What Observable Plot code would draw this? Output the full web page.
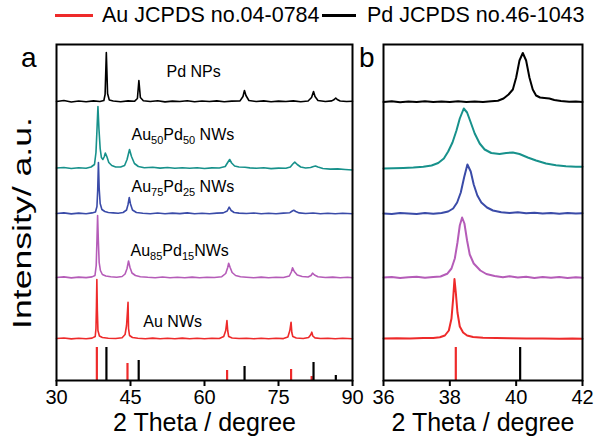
<!DOCTYPE html>
<html><head><meta charset="utf-8">
<script src="https://cdn.jsdelivr.net/npm/d3@7"></script>
<script src="https://cdn.jsdelivr.net/npm/@observablehq/plot@0.6"></script>
<style>
body{margin:0;background:#fff;font-family:"Liberation Sans",Arial,sans-serif;}
#wrap{position:relative;width:595px;height:437px;overflow:hidden;background:#fff;}
#wrap > svg{position:absolute;top:0;}
.t{position:absolute;white-space:nowrap;color:#000;line-height:1;}
.t sub{font-size:11px;vertical-align:-4px;line-height:0;}
.sw{position:absolute;height:3px;}
</style></head><body><div id="wrap"></div>
<script>
// ---------- data ----------
const samples = ["Pd NPs", "Au50Pd50 NWs", "Au75Pd25 NWs", "Au85Pd15 NWs", "Au NWs"];
const sampleHtml = ["Pd NPs", "Au<sub>50</sub>Pd<sub>50</sub> NWs", "Au<sub>75</sub>Pd<sub>25</sub> NWs", "Au<sub>85</sub>Pd<sub>15</sub>NWs", "Au NWs"];
const colors = ["#000000", "#17918b", "#3a4ba8", "#b55cb8", "#ee2a2a"];
const labelX = [52.4, 45.3, 45.3, 45.1, 47.7];
const labelY = [308, 245, 193, 129, 58];

const xTicksA = [30, 45, 60, 75, 90];
const xTicksB = [36, 38, 40, 42];

const auStickPos = [38.18, 44.39, 64.58, 77.55, 81.72];
const auStickH = [33, 17, 10, 11, 4];
const pdStickPos = [40.12, 46.66, 68.12, 82.1, 86.62];
const pdStickH = [33, 20, 14, 18, 5];
const legendNames = ["Au JCPDS no.04-0784", "Pd JCPDS no.46-1043"];
const legendColors = ["#ee2a2a", "#000000"];

// panel a (2θ, intensity a.u.)
const pdA = [[30,279],[31.5,280],[33,278.5],[34.5,279.5],[36,278.8],[37.5,279.6],[38.8,279],[39.6,280],[39.85,286],[40.1,328],[40.35,287],[40.7,280.5],[41.5,279.5],[43,278.8],[44.5,279.6],[45.8,279.2],[46.4,282],[46.7,300],[47.0,283],[47.6,279.8],[49,279],[50.5,279.8],[52,278.6],[53.5,279.4],[55,279],[56.5,279.8],[58,278.7],[59.5,279.5],[61,279],[62.5,279.6],[64,278.8],[65.5,279.4],[67.2,279.6],[67.8,284],[68.1,290],[68.4,285],[69,280],[70.5,279],[72,279.6],[73.5,278.7],[75,279.4],[76.5,279],[78,279.6],[79.5,278.8],[81,279.5],[81.7,283],[82.1,289],[82.4,284],[83,280],[84.5,279],[85.8,279.6],[86.3,281],[86.6,282.5],[86.9,281],[87.5,279.5],[88.8,279],[90,279.3]];
const au50A = [[30,212.5],[31.5,213],[33,212],[34.5,212.8],[36,212.3],[37,213.5],[37.7,216],[38.0,228],[38.2,250],[38.4,274],[38.6,252],[38.85,232],[39.1,223],[39.4,221],[39.7,224],[39.9,227.5],[40.2,224],[40.6,218],[41.2,215],[42,213.5],[43,213.5],[43.8,215],[44.3,221],[44.8,231],[45.2,224],[45.8,217],[46.6,214],[47.8,212.8],[49.5,213.3],[51,212.4],[52.5,213],[54,212.2],[55.5,212.8],[57,212.3],[58.5,212.7],[60,212],[61.5,212.6],[63,212.5],[64.2,214],[64.7,218],[65.1,221],[65.5,217.5],[66.1,214.5],[67,213.5],[68.2,213.3],[69.2,212.6],[70.5,212.2],[72,212.7],[73.5,211.9],[75,212.4],[76.5,212.2],[77.4,213.5],[77.9,216.5],[78.3,218.3],[78.8,216],[79.5,213.5],[80.5,212.5],[81.5,213],[82.1,214],[82.5,214.5],[83,213.5],[84,212],[85.5,211.4],[87,211.6],[88.5,211],[90,210.5]];
const au75A = [[30,167],[31.5,167.6],[33,166.6],[34.5,167.4],[36,166.8],[37.2,167.6],[37.9,168.5],[38.2,174],[38.35,190],[38.5,218],[38.65,192],[38.85,177],[39.2,171],[39.8,169],[40.5,168],[41.5,167.6],[42.5,167.2],[43.5,168],[44.2,170.5],[44.5,176],[44.75,183],[45.0,176.5],[45.4,170.5],[46.2,168],[47.5,167.3],[49,166.8],[50.5,167.5],[52,166.7],[53.5,167.4],[55,166.9],[56.5,167.6],[58,166.8],[59.5,167.3],[61,166.7],[62.5,167.4],[63.8,167.6],[64.6,169.5],[65.0,173.3],[65.4,170],[66,168],[67,167.4],[68.5,167],[70,167.5],[71.5,166.7],[73,167.3],[74.5,166.8],[76,167.4],[77.3,167.8],[77.8,169.5],[78.1,170.2],[78.5,169],[79.2,167.6],[80.5,167],[82,167.5],[83.5,166.7],[85,167.3],[86.5,166.7],[88,167.2],[90,166.8]];
const au85A = [[30,103],[31.5,103.6],[33,102.6],[34.5,103.4],[36,102.9],[37.2,103.6],[37.8,105],[38.05,115],[38.2,140],[38.33,165],[38.48,140],[38.65,118],[38.9,110],[39.3,106],[40,104.5],[41,103.8],[42.2,103.3],[43.3,104],[43.9,106.5],[44.3,112],[44.6,119.5],[44.9,113],[45.3,107.5],[46,105],[47,103.8],[48.5,103.2],[50,102.8],[51.5,103.5],[53,102.7],[54.5,103.3],[56,102.8],[57.5,103.4],[59,102.7],[60.5,103.3],[62,103],[63.5,103.8],[64.3,107],[64.7,113],[64.9,117.3],[65.2,113],[65.6,108],[66.3,105],[67.3,103.8],[68.5,103.3],[70,102.8],[71.5,103.4],[73,102.7],[74.5,103.3],[76,103],[77.2,104.5],[77.6,108.5],[77.85,112.7],[78.2,109],[78.8,105.5],[79.8,104],[81,103.5],[81.6,105],[81.9,107.3],[82.3,105.5],[83,103.8],[84.5,103],[86,103.4],[87.5,102.7],[89,103.2],[90,102.8]];
const auA = [[30,42],[31.5,42.5],[33,41.6],[34.5,42.3],[36,41.8],[37.2,42.4],[37.85,44],[38.0,52],[38.1,75],[38.18,101],[38.28,70],[38.4,50],[38.7,44.5],[39.3,43],[40.5,42.3],[42,42],[43.3,42.8],[43.9,46],[44.2,55],[44.4,70],[44.5,78.3],[44.6,52],[44.8,45],[45.4,43],[46.5,42.3],[48,41.8],[49.5,42.4],[51,41.7],[52.5,42.3],[54,41.8],[55.5,42.4],[57,41.7],[58.5,42.2],[60,41.8],[61.5,42.3],[63,42],[63.9,44],[64.3,50],[64.55,60],[64.7,50],[64.9,44],[65.6,42.5],[67,42],[68.5,42.3],[70,41.7],[71.5,42.2],[73,41.8],[74.5,42.3],[76,41.9],[76.9,43.5],[77.3,50],[77.55,58.3],[77.7,48],[77.9,44],[78.6,42.5],[80,42],[81.1,43],[81.5,45.5],[81.75,48.3],[81.95,44.5],[82.4,42.6],[83.5,42],[85,42.3],[86.5,41.7],[88,42.2],[90,41.8]];

// panel b (zoom 36–42)
const pdB = [[36,278.5],[36.25,279.2],[36.5,278.3],[36.75,279],[37,278.6],[37.25,279.3],[37.5,278.4],[37.75,279],[38,278.5],[38.25,279.2],[38.5,278.6],[38.75,278.9],[39,278.4],[39.25,279.2],[39.45,279.8],[39.62,282],[39.77,286],[39.9,291],[40.0,303],[40.1,320],[40.2,327.5],[40.3,320],[40.4,303],[40.5,291],[40.6,285],[40.72,283],[40.85,282.5],[41.0,282],[41.15,280.5],[41.35,279.5],[41.6,278.7],[41.8,279],[42,278.6]];
const au50B = [[36,212],[36.3,212.3],[36.6,212.6],[36.9,213],[37.2,213.8],[37.45,215],[37.65,217.5],[37.82,222],[37.95,229],[38.08,238],[38.2,250],[38.3,262],[38.42,272],[38.52,268],[38.62,259],[38.75,247],[38.9,237],[39.05,231],[39.25,227.5],[39.5,226.5],[39.7,227.5],[39.9,228],[40.1,226.5],[40.35,223],[40.6,220],[40.9,217],[41.2,215.3],[41.5,214.3],[41.8,213.8],[42,213.7]];
const au75B = [[36,167],[36.25,166.5],[36.5,167.5],[36.75,167],[37,166.4],[37.25,167.4],[37.5,166.8],[37.75,167.6],[37.95,169],[38.1,172],[38.22,178],[38.33,188],[38.43,203],[38.53,216],[38.63,209],[38.72,196],[38.83,185],[38.95,178],[39.12,173],[39.3,170],[39.55,168.2],[39.8,167.6],[40.05,168.3],[40.3,167.2],[40.55,167.8],[40.8,166.9],[41.05,167.6],[41.3,166.8],[41.55,167.5],[41.8,166.9],[42,167.2]];
const au85B = [[36,103],[36.25,103.6],[36.5,102.6],[36.75,103.3],[37,103.8],[37.25,102.8],[37.5,103.5],[37.72,104],[37.92,106.7],[38.05,112],[38.15,122],[38.23,138],[38.3,155],[38.37,163],[38.44,157],[38.52,140],[38.6,126],[38.72,117],[38.92,110],[39.1,106.5],[39.35,104.5],[39.6,103.3],[39.8,104.3],[40.05,103],[40.3,103.8],[40.55,102.6],[40.8,103.4],[41.05,102.7],[41.3,103.5],[41.55,102.6],[41.8,103.2],[42,102.7]];
const auB = [[36,42],[36.4,42.2],[36.8,42],[37.2,42.4],[37.5,42.5],[37.7,43.2],[37.85,45],[37.97,50],[38.05,62],[38.1,82],[38.14,101.5],[38.18,88],[38.23,68],[38.3,54],[38.4,48],[38.52,45],[38.7,43.5],[39,42.8],[39.4,42.4],[39.8,42.2],[40.3,42],[40.8,42.1],[41.3,41.8],[41.7,42],[42,41.8]];

const seriesA = [pdA, au50A, au75A, au85A, auA];
const seriesB = [pdB, au50B, au75B, au85B, auB];

// ---------- build ----------
const FONT = '"Liberation Sans", Arial, sans-serif';
const sticks = [
  ...auStickPos.map((p, i) => ({pos: p, h: auStickH[i], c: legendColors[0]})),
  ...pdStickPos.map((p, i) => ({pos: p, h: pdStickH[i], c: legendColors[1]}))
];

function panel(domain, ticks, series, width, mL, mR, lw) {
  const st = sticks.filter(d => d.pos >= domain[0] && d.pos <= domain[1]);
  return Plot.plot({
    width, height: 437, marginLeft: mL, marginRight: mR, marginTop: 44, marginBottom: 57,
    x: {domain, label: null},
    y: {domain: [0, 336], axis: null},
    style: {fontFamily: FONT, fontSize: "20px", color: "#000", background: "transparent", overflow: "visible"},
    marks: [
      Plot.ruleX(st, {x: "pos", y1: 0, y2: "h", stroke: d => d.c, strokeWidth: 2.2}),
      ...series.map((s, i) => Plot.line(s, {x: d => d[0], y: d => d[1], stroke: colors[i], strokeWidth: lw, curve: "linear"})),
      Plot.frame({stroke: "#000", strokeWidth: 2}),
      Plot.axisX({ticks, tickSize: 6, tickPadding: 3, strokeWidth: 2, fontSize: 20, label: null, tickFormat: d => String(d)}),
      Plot.text(["2 Theta / degree"], {frameAnchor: "bottom", dy: 42, lineAnchor: "middle", fontSize: 25})
    ]
  });
}

const wrap = document.getElementById("wrap");
const chartA = panel([30, 90], xTicksA, seriesA, 365, 56, 13, 1.6);
const chartB = panel([36, 42], xTicksB, seriesB, 230, 18, 13, 2);
chartA.style.left = "0px";
chartB.style.left = "365px";
wrap.appendChild(chartA);
wrap.appendChild(chartB);

// sample labels via scales
const sx = chartA.scale("x"), sy = chartA.scale("y");
samples.forEach((s, i) => {
  const d = document.createElement("div");
  d.className = "t";
  d.style.fontSize = "16px";
  d.innerHTML = sampleHtml[i];
  d.title = s;
  d.style.left = sx.apply(labelX[i]) + "px";
  d.style.top = (sy.apply(labelY[i]) - 8) + "px";
  wrap.appendChild(d);
});

// panel letters
[["a", 21, 44], ["b", 359, 44]].forEach(([t, l, tp]) => {
  const d = document.createElement("div");
  d.className = "t"; d.style.fontSize = "28px"; d.textContent = t;
  d.style.left = l + "px"; d.style.top = tp + "px";
  wrap.appendChild(d);
});

// legend
const leg = [[55, 93, 102], [322, 356, 367]];
legendNames.forEach((n, i) => {
  const sw = document.createElement("div");
  sw.className = "sw"; sw.style.background = legendColors[i];
  sw.style.left = leg[i][0] + "px"; sw.style.width = (leg[i][1] - leg[i][0]) + "px"; sw.style.top = "14px";
  wrap.appendChild(sw);
  const d = document.createElement("div");
  d.className = "t"; d.style.fontSize = "21.5px"; d.textContent = n;
  d.style.left = leg[i][2] + "px"; d.style.top = "5px";
  wrap.appendChild(d);
});

// y label
const ns = "http://www.w3.org/2000/svg";
const ysvg = document.createElementNS(ns, "svg");
ysvg.setAttribute("width", 50); ysvg.setAttribute("height", 437);
ysvg.style.left = "0px";
const yt = document.createElementNS(ns, "text");
yt.setAttribute("transform", "translate(31,223) rotate(-90)");
yt.setAttribute("text-anchor", "middle");
yt.setAttribute("font-family", FONT);
yt.setAttribute("font-size", "25");
yt.setAttribute("textLength", "212");
yt.setAttribute("lengthAdjust", "spacingAndGlyphs");
yt.textContent = "Intensity/ a.u.";
ysvg.appendChild(yt);
wrap.appendChild(ysvg);
</script>
</body></html>
